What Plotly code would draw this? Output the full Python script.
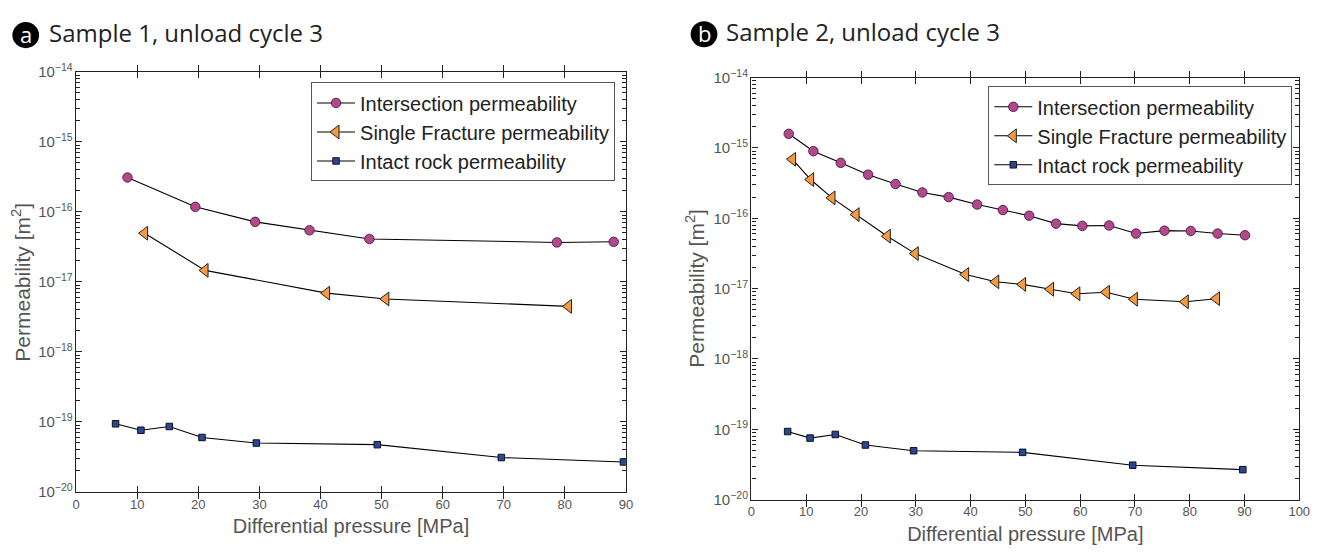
import plotly.graph_objects as go

W, H = 1331, 554

# ---------------- data ----------------
a_int_x = [8.4, 19.5, 29.3, 38.2, 48.0, 78.7, 88.0]
a_int_y = [3.1e-16, 1.18e-16, 7.2e-17, 5.45e-17, 4.1e-17, 3.66e-17, 3.74e-17]

a_sf_x = [11.2, 21.1, 41.0, 50.7, 80.6]
a_sf_y = [4.96e-17, 1.46e-17, 6.9e-18, 5.7e-18, 4.47e-18]

a_ir_x = [6.45, 10.6, 15.25, 20.6, 29.5, 49.3, 69.6, 89.6]
a_ir_y = [9.4e-20, 7.6e-20, 8.6e-20, 6.0e-20, 4.99e-20, 4.73e-20, 3.1e-20, 2.68e-20]

b_int_x = [6.8, 11.3, 16.3, 21.3, 26.3, 31.2, 36.0, 41.2, 45.9, 50.7, 55.6, 60.4,
           65.3, 70.2, 75.4, 80.2, 85.1, 90.1]
b_int_y = [1.59e-15, 9.0e-16, 6.15e-16, 4.17e-16, 3.07e-16, 2.33e-16, 2.0e-16, 1.57e-16,
           1.31e-16, 1.09e-16, 8.4e-17, 7.8e-17, 7.9e-17, 6.07e-17, 6.67e-17, 6.6e-17,
           6.07e-17, 5.75e-17]

b_sf_x = [7.5, 10.8, 14.7, 19.1, 24.8, 29.9, 39.1, 44.6, 49.5, 54.6, 59.4, 64.8, 69.9, 79.2, 84.9]
b_sf_y = [6.9e-16, 3.56e-16, 1.95e-16, 1.13e-16, 5.57e-17, 3.15e-17, 1.59e-17, 1.25e-17,
          1.15e-17, 9.8e-18, 8.45e-18, 8.9e-18, 7.07e-18, 6.5e-18, 7.2e-18]

b_ir_x = [6.6, 10.7, 15.3, 20.8, 29.6, 49.5, 69.6, 89.7]
b_ir_y = [9.3e-20, 7.5e-20, 8.45e-20, 5.98e-20, 4.96e-20, 4.7e-20, 3.09e-20, 2.67e-20]

series_names = ["Intersection permeability", "Single Fracture permeability",
                "Intact rock permeability"]
panel_titles = ["Sample 1, unload cycle 3", "Sample 2, unload cycle 3"]
panel_letters = ["a", "b"]
y_title = "Permeability [m<sup>2</sup>]"
x_title = "Differential pressure [MPa]"
decades = [-20, -19, -18, -17, -16, -15]
minor_mult = [2, 3, 4, 5, 6, 7, 8, 9]

# ---------------- styles ----------------
C_INT = "#B4488C"
C_SF = "#F59A3E"
C_IR = "#27479A"
AXC = "#555555"
FONT = "Liberation Sans, Arial, Helvetica, sans-serif"


def px_x(p):
    return p / W


def px_y(p):
    return 1 - p / H


minor_vals = [m * 10.0 ** d for d in decades for m in minor_mult]

fig = go.Figure()

panels = [
    dict(xa="x", ya="y", ym="y3", leg="legend",
         data=[(a_int_x, a_int_y), (a_sf_x, a_sf_y), (a_ir_x, a_ir_y)]),
    dict(xa="x2", ya="y2", ym="y4", leg="legend2",
         data=[(b_int_x, b_int_y), (b_sf_x, b_sf_y), (b_ir_x, b_ir_y)]),
]
markers = [
    dict(symbol="circle", size=9.5, color=C_INT, line=dict(color="#3a1030", width=0.8)),
    dict(symbol="triangle-left", size=12, color=C_SF, line=dict(color="#222222", width=1)),
    dict(symbol="square", size=6.5, color=C_IR, line=dict(color="#111111", width=1)),
]

for p in panels:
    # invisible helper so the minor-tick overlay axis is always drawn
    xs0, ys0 = p["data"][2]
    fig.add_trace(go.Scatter(x=xs0, y=ys0, mode="lines", line=dict(width=0),
                             opacity=0, showlegend=False, hoverinfo="skip",
                             xaxis=p["xa"], yaxis=p["ym"]))
    for (xs, ys), name, mk in zip(p["data"], series_names, markers):
        fig.add_trace(go.Scatter(
            x=xs, y=ys, mode="lines+markers", name=name,
            line=dict(color="black", width=1.1), marker=mk,
            xaxis=p["xa"], yaxis=p["ya"], legend=p["leg"], showlegend=True))

common_x = dict(showline=True, linecolor="#222222", linewidth=1.2, mirror="allticks",
                ticks="inside", ticklen=6, tickcolor="#222222", showgrid=False,
                zeroline=False, tickfont=dict(family=FONT, size=13, color=AXC),
                title=dict(text=x_title,
                           font=dict(family=FONT, size=20, color=AXC), standoff=8))
common_y = dict(type="log", range=[-20, -14], showline=True, linecolor="#222222",
                linewidth=1.2, mirror="allticks", ticks="inside", ticklen=6,
                tickcolor="#222222", showgrid=False, zeroline=False,
                tickmode="linear", tick0=0, dtick=1, exponentformat="power",
                tickfont=dict(family=FONT, size=12, color=AXC))
minor_y = dict(type="log", range=[-20, -14], showline=True, linecolor="#222222",
               linewidth=1.2, mirror="allticks", ticks="inside", ticklen=4, tickwidth=1.2,
               tickcolor="#222222", showgrid=False, zeroline=False,
               tickmode="array", tickvals=minor_vals, showticklabels=False)

ya_dom = [px_y(498), px_y(63)]
yb_dom = [px_y(506), px_y(69)]

fig.update_layout(
    width=W, height=H, margin=dict(l=0, r=0, t=0, b=0),
    paper_bgcolor="white", plot_bgcolor="white",
    xaxis=dict(domain=[px_x(73), px_x(629)], range=[0, 90], dtick=10, anchor="y",
               **common_x),
    yaxis=dict(domain=ya_dom, anchor="x", **common_y),
    yaxis3=dict(overlaying="y", anchor="x", side="left", **minor_y),
    xaxis2=dict(domain=[px_x(756), px_x(1310)], range=[0, 100], dtick=10, anchor="y2",
                **common_x),
    yaxis2=dict(domain=yb_dom, anchor="x2", **common_y),
    yaxis4=dict(overlaying="y2", anchor="x2", side="left", **minor_y),
    legend=dict(x=px_x(618), y=px_y(74), xanchor="right", yanchor="top",
                bgcolor="white", bordercolor="#555555", borderwidth=1,
                font=dict(family=FONT, size=20, color="#222222"),
                tracegroupgap=0, itemwidth=38),
    legend2=dict(x=px_x(1303), y=px_y(78), xanchor="right", yanchor="top",
                 bgcolor="white", bordercolor="#555555", borderwidth=1,
                 font=dict(family=FONT, size=20, color="#222222"),
                 tracegroupgap=0, itemwidth=38),
)

# rotated y-axis titles
for xc, dom in [(17, ya_dom), (699, yb_dom)]:
    fig.add_annotation(text=y_title, xref="paper", yref="paper", x=px_x(xc),
                       y=(dom[0] + dom[1]) / 2, xanchor="center", yanchor="middle",
                       textangle=-90, showarrow=False,
                       font=dict(family=FONT, size=21, color=AXC))

# panel labels (black disc with white letter) and panel titles
for letter, title, cx, cy, tx in [(panel_letters[0], panel_titles[0], 22, 25, 43),
                                   (panel_letters[1], panel_titles[1], 708, 24, 728)]:
    r = 13.5
    fig.add_shape(type="circle", xref="paper", yref="paper",
                  x0=px_x(cx - r), x1=px_x(cx + r), y0=px_y(cy + r), y1=px_y(cy - r),
                  fillcolor="black", line=dict(color="black", width=0))
    fig.add_annotation(text=letter, xref="paper", yref="paper", x=px_x(cx), y=px_y(cy - 1),
                       xanchor="center", yanchor="middle", showarrow=False,
                       font=dict(family="Open Sans, sans-serif", size=22, color="white"))
    fig.add_annotation(text=title, xref="paper", yref="paper", x=px_x(tx), y=px_y(cy - 3),
                       xanchor="left", yanchor="middle", showarrow=False,
                       font=dict(family="Open Sans, sans-serif", size=24, color="#222222"))

fig.write_html("out.html")
